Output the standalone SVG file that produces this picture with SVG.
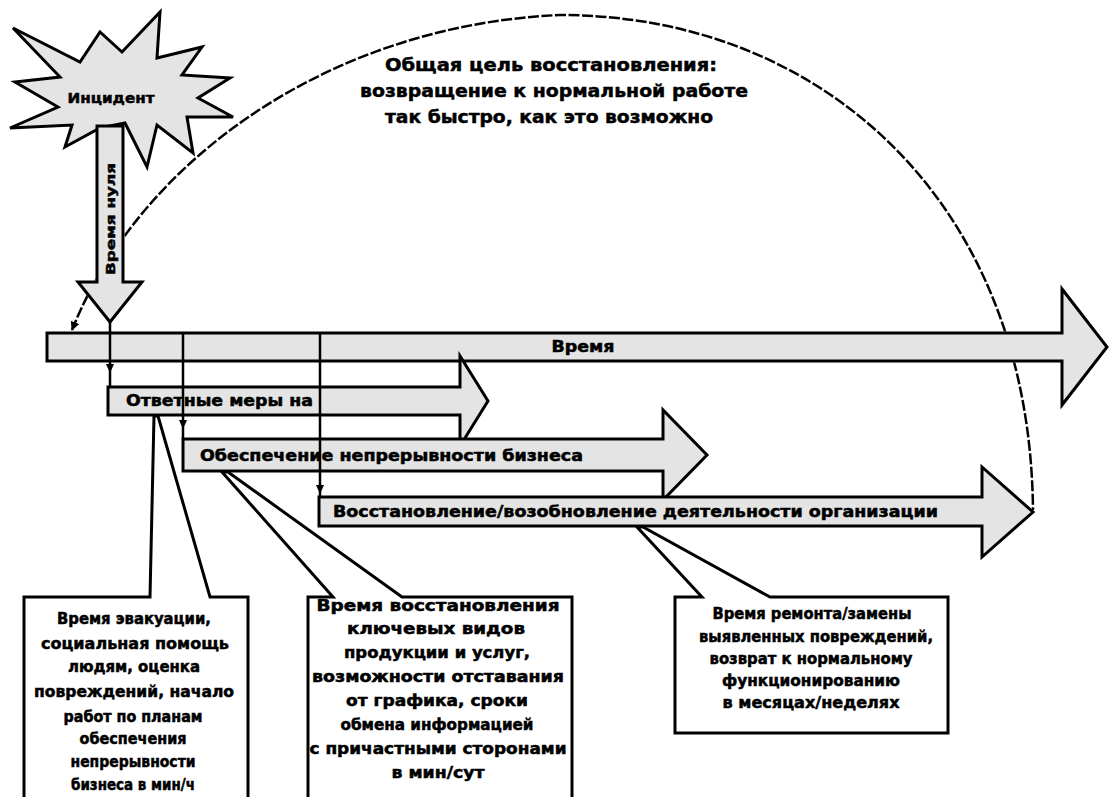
<svg xmlns="http://www.w3.org/2000/svg" xmlns:xlink="http://www.w3.org/1999/xlink" width="1109" height="797" viewBox="0 0 1109 797">
  <defs>
    <style>
      .shape{fill:#e4e4e4;stroke:#000;stroke-width:3;stroke-linejoin:miter}
      .box{fill:#fff;stroke:#000;stroke-width:3;stroke-linejoin:miter}
      .t{font-family:"DejaVu Sans","Liberation Sans",sans-serif;font-weight:bold;fill:#000;stroke:#000;stroke-width:0.5;text-anchor:middle}
      .bar{font-size:15px}
      .note{font-size:15px}
      .goal{font-size:18px}
      .arc{fill:none;stroke:#000;stroke-width:2.5;stroke-dasharray:11 2.5}
      .tick{fill:none;stroke:#000;stroke-width:2.5}
      .tip{fill:#000}
    </style>
    <marker id="arcHead" viewBox="0 0 10 10" refX="9" refY="5" markerWidth="3.6" markerHeight="3.6" orient="auto-start-reverse">
      <path d="M0,0 L10,5 L0,10 Z" fill="#000"/>
    </marker>
    <!-- shared geometry, drawn by the nodes and reused by the arc mask -->
    <polygon id="starShape" points="13,28 80,62 100,32 122,52 160,12 157,58 202,47 182,75 230,78 198,98 233,117 187,117 193,153 157,125 147,167 125,123 100,128 65,147 72,125 10,128 58,107 15,82 60,77"/>
    <polygon id="zeroShape" points="97,126 123,126 123,282 142,282 110,322 78,282 97,282"/>
    <polygon id="axisShape" points="47,333 1062,333 1062,289 1107,347 1062,405 1062,361 47,361"/>
    <mask id="arcMask" maskUnits="userSpaceOnUse" x="0" y="0" width="1109" height="797">
      <rect x="0" y="0" width="1109" height="797" fill="#fff"/>
      <use xlink:href="#starShape" fill="#000" stroke="#000" stroke-width="3"/>
      <use xlink:href="#zeroShape" fill="#000" stroke="#000" stroke-width="3"/>
      <use xlink:href="#axisShape" fill="#000" stroke="#000" stroke-width="3"/>
    </mask>
  </defs>

  <rect x="0" y="0" width="1109" height="797" fill="#fff"/>

  <!-- incident burst -->
  <g id="incident">
    <use xlink:href="#starShape" class="shape"/>
    <text class="t" x="111" y="103" font-size="14" textLength="87" lengthAdjust="spacingAndGlyphs">Инцидент</text>
  </g>

  <!-- time zero arrow -->
  <g id="time-zero">
    <use xlink:href="#zeroShape" class="shape"/>
    <text class="t" font-size="13" transform="translate(115,219) rotate(-90)" textLength="112" lengthAdjust="spacingAndGlyphs">Время нуля</text>
  </g>

  <!-- overall recovery goal -->
  <g id="goal">
    <text class="t goal" x="551" y="71" textLength="332" lengthAdjust="spacingAndGlyphs">Общая цель восстановления:</text>
    <text class="t goal" x="554" y="97" textLength="388" lengthAdjust="spacingAndGlyphs">возвращение к нормальной работе</text>
    <text class="t goal" x="549" y="123" textLength="328" lengthAdjust="spacingAndGlyphs">так быстро, как это возможно</text>
  </g>

  <!-- time axis -->
  <g id="time-axis">
    <use xlink:href="#axisShape" class="shape"/>
    <text class="t bar" x="583" y="352" textLength="63" lengthAdjust="spacingAndGlyphs">Время</text>
  </g>

  <!-- phases -->
  <g id="phase-response">
    <polygon class="shape" points="108,387 460,387 460,356 488,401 460,446 460,415 108,415"/>
    <text class="t bar" x="219.5" y="406" textLength="187" lengthAdjust="spacingAndGlyphs">Ответные меры на</text>
  </g>
  <g id="phase-continuity">
    <polygon class="shape" points="183,439 663,439 663,410 707,455 663,500 663,471 183,471"/>
    <text class="t bar" x="391.5" y="461" textLength="383" lengthAdjust="spacingAndGlyphs">Обеспечение непрерывности бизнеса</text>
  </g>
  <g id="phase-recovery">
    <polygon class="shape" points="319,497 982,497 982,467 1033,512 982,557 982,526 319,526"/>
    <text class="t bar" x="635.5" y="517" textLength="605" lengthAdjust="spacingAndGlyphs">Восстановление/возобновление деятельности организации</text>
  </g>

  <!-- callouts -->
  <g id="note-response">
    <path class="box" d="M24,805 V597 H150 L154,416 L158,416 L210,597 H248 V805"/>
    <text class="t note" x="134" y="624" textLength="154" lengthAdjust="spacingAndGlyphs">Время эвакуации,</text>
    <text class="t note" x="135" y="649" textLength="188" lengthAdjust="spacingAndGlyphs">социальная помощь</text>
    <text class="t note" x="134" y="672" textLength="132" lengthAdjust="spacingAndGlyphs">людям, оценка</text>
    <text class="t note" x="134" y="697" textLength="200" lengthAdjust="spacingAndGlyphs">повреждений, начало</text>
    <text class="t note" x="133" y="722" textLength="139" lengthAdjust="spacingAndGlyphs">работ по планам</text>
    <text class="t note" x="133" y="744" textLength="107" lengthAdjust="spacingAndGlyphs">обеспечения</text>
    <text class="t note" x="133" y="767" textLength="125" lengthAdjust="spacingAndGlyphs">непрерывности</text>
    <text class="t note" x="133" y="790" textLength="124" lengthAdjust="spacingAndGlyphs">бизнеса в мин/ч</text>
  </g>

  <g id="note-continuity">
    <path class="box" d="M308,805 V597 H333 L222,472 L228,472 L402,597 H572 V805"/>
    <text class="t note" x="438" y="611" textLength="243" lengthAdjust="spacingAndGlyphs">Время восстановления</text>
    <text class="t note" x="436" y="634" textLength="178" lengthAdjust="spacingAndGlyphs">ключевых видов</text>
    <text class="t note" x="437" y="658" textLength="186" lengthAdjust="spacingAndGlyphs">продукции и услуг,</text>
    <text class="t note" x="438" y="682" textLength="252" lengthAdjust="spacingAndGlyphs">возможности отставания</text>
    <text class="t note" x="437" y="706" textLength="182" lengthAdjust="spacingAndGlyphs">от графика, сроки</text>
    <text class="t note" x="437" y="730" textLength="193" lengthAdjust="spacingAndGlyphs">обмена информацией</text>
    <text class="t note" x="438" y="754" textLength="257" lengthAdjust="spacingAndGlyphs">с причастными сторонами</text>
    <text class="t note" x="438" y="778" textLength="93" lengthAdjust="spacingAndGlyphs">в мин/сут</text>
  </g>

  <g id="note-recovery">
    <path class="box" d="M675,733 V597 H702 L637,527 L643,527 L770,597 H948 V733 Z"/>
    <text class="t note" x="812" y="619" textLength="199" lengthAdjust="spacingAndGlyphs">Время ремонта/замены</text>
    <text class="t note" x="816" y="642" textLength="234" lengthAdjust="spacingAndGlyphs">выявленных повреждений,</text>
    <text class="t note" x="811" y="664" textLength="203" lengthAdjust="spacingAndGlyphs">возврат к нормальному</text>
    <text class="t note" x="811" y="686" textLength="178" lengthAdjust="spacingAndGlyphs">функционированию</text>
    <text class="t note" x="811" y="708" textLength="177" lengthAdjust="spacingAndGlyphs">в месяцах/неделях</text>
  </g>

  <!-- connectors: recovery-goal arc and phase start marks -->
  <g id="connectors">
    <path class="arc" mask="url(#arcMask)" marker-start="url(#arcHead)" d="M72,330 C140,160 330,25 560,15 C820,15 1030,200 1033,510"/>
    <path class="tick" d="M110,322 V387"/>
    <path class="tick" d="M183,333 V439"/>
    <path class="tick" d="M320,333 V497"/>
    <polygon class="tip" points="106,364 114,364 110,373"/>
    <polygon class="tip" points="179,420 187,420 183,429"/>
    <polygon class="tip" points="316,485 324,485 320,494"/>
  </g>
</svg>
